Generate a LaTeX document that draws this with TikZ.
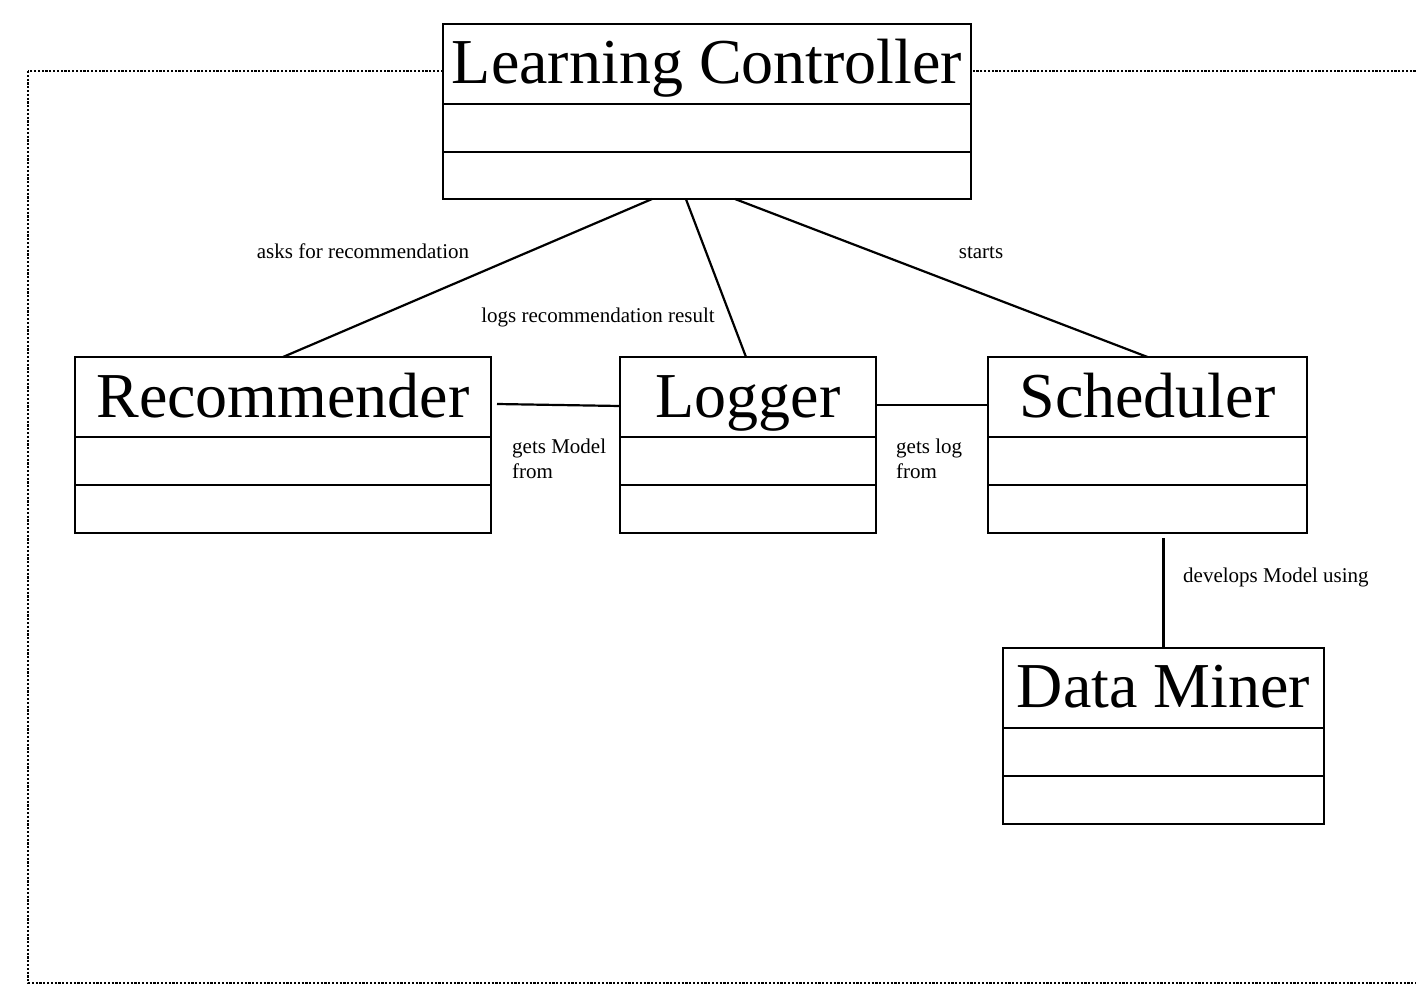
\documentclass[tikz,border=0pt]{standalone}
\usepackage{fontspec}
\setmainfont{Liberation Serif}
\usetikzlibrary{calc}
\tikzset{
  umlbox/.style={draw=black, fill=white, line width=2.3pt, rectangle, inner sep=0pt, outer sep=0pt},
  divider/.style={line width=2.3pt},
  titletext/.style={anchor=base, inner sep=0pt, font=\fontsize{64}{70}\selectfont},
  smalltext/.style={inner sep=0pt, font=\fontsize{21}{25}\selectfont, align=left},
  assoc/.style={line width=2.2pt},
  frameline/.style={line width=2.4pt, dash pattern=on 2.2pt off 1.6pt}
}
\newcommand{\umlclassbox}[9]{%
  % #1 name, #2 x1, #3 y1, #4 x2, #5 y2, #6 div1, #7 div2, #8 baseline, #9 text
  \node[umlbox, minimum width={(#4-#2)*1pt}, minimum height={(#5-#3)*1pt}] (#1) at ({(#2+#4)/2},{(#3+#5)/2}) {};
  \draw[divider] (#2,#6) -- (#4,#6);
  \draw[divider] (#2,#7) -- (#4,#7);
  \node[titletext] (#1-title) at ({(#2+#4)/2},#8) {#9};
}
\begin{document}
\begin{tikzpicture}[x=1pt,y=-1pt]
\useasboundingbox (0,0) rectangle (1416,993);
\clip (0,0) rectangle (1416,993);
\fill[white] (0,0) rectangle (1416,993);
% frame
\draw[frameline] (28,71) rectangle (1440,983);
% classes
\umlclassbox{lc}{443}{24}{971}{199}{104}{152}{83}{Learning Controller}
\umlclassbox{rec}{75}{357}{491}{533}{437}{485}{417}{Recommender}
\umlclassbox{log}{620}{357}{876}{533}{437}{485}{417}{Logger}
\umlclassbox{sch}{988}{357}{1307}{533}{437}{485}{417}{Scheduler}
\umlclassbox{dm}{1003}{648}{1324}{824}{728}{776}{707}{Data Miner}
% associations
\draw[assoc] ($(lc.south west)!0.396!(lc.south east)$) -- (rec.north);
\draw[assoc] ($(lc.south west)!0.46!(lc.south east)$) -- ($(log.north)+(-2,0)$);
\draw[assoc] ($(lc.south west)!0.553!(lc.south east)$) -- (sch.north);
\draw[assoc] ($(rec.north east)+(6,47)$) -- ($(log.north west)+(0,49)$);
\draw[assoc] ($(log.north east)+(0,48)$) -- ($(sch.north west)+(0,48)$);
\draw[assoc] ($(dm.north |- sch.south)+(0,5)$) -- (dm.north);
% labels
\node[smalltext, anchor=base] (l1) at (363,258) {asks for recommendation};
\node[smalltext, anchor=base] (l2) at (598,322) {logs recommendation result};
\node[smalltext, anchor=base] (l3) at (981,258) {starts};
\node[smalltext, anchor=base west] (l4) at (512,478) {gets Model\\from};
\node[smalltext, anchor=base west] (l5) at (896,478) {gets log\\from};
\node[smalltext, anchor=base west] (l6) at (1183,582) {develops Model using};
\end{tikzpicture}
\end{document}
